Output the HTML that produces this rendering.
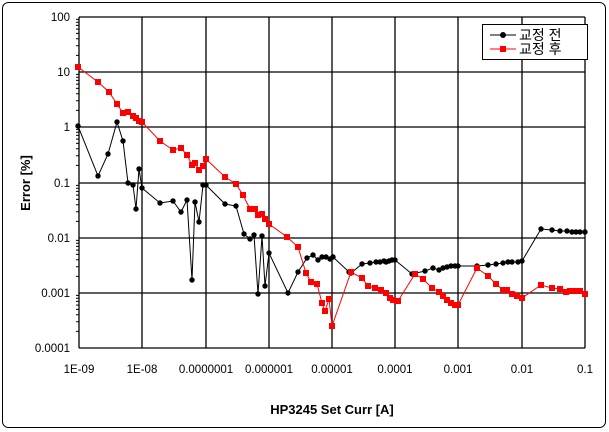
<!DOCTYPE html>
<html><head><meta charset="utf-8"><style>body{margin:0;background:#fff}svg{display:block}</style></head><body>
<svg width="609" height="432" xmlns="http://www.w3.org/2000/svg" font-family="Liberation Sans, sans-serif">
<rect x="0" y="0" width="609" height="432" fill="#fff"/>
<rect x="2.5" y="2.5" width="603" height="425" rx="6" fill="none" stroke="#000" stroke-width="1"/>
<g stroke="#000" stroke-width="1.3">
<line x1="79" y1="17" x2="585" y2="17"/><line x1="79" y1="72" x2="585" y2="72"/><line x1="79" y1="127" x2="585" y2="127"/><line x1="79" y1="183" x2="585" y2="183"/><line x1="79" y1="238" x2="585" y2="238"/><line x1="79" y1="293" x2="585" y2="293"/><line x1="79" y1="348" x2="585" y2="348"/>
<line x1="79" y1="17" x2="79" y2="348"/><line x1="142" y1="17" x2="142" y2="348"/><line x1="206" y1="17" x2="206" y2="348"/><line x1="269" y1="17" x2="269" y2="348"/><line x1="332" y1="17" x2="332" y2="348"/><line x1="395" y1="17" x2="395" y2="348"/><line x1="458" y1="17" x2="458" y2="348"/><line x1="522" y1="17" x2="522" y2="348"/><line x1="585" y1="17" x2="585" y2="348"/>
</g>
<g stroke="#000" stroke-width="1" id="mt">
<path d="M76 55.4H79M76 45.7H79M76 38.8H79M76 33.4H79M76 29.1H79M76 25.4H79M76 22.2H79M76 19.4H79"/>
<path d="M76 110.4H79M76 100.7H79M76 93.8H79M76 88.4H79M76 84.1H79M76 80.4H79M76 77.2H79M76 74.4H79"/>
<path d="M76 165.4H79M76 155.7H79M76 148.8H79M76 143.4H79M76 139.1H79M76 135.4H79M76 132.2H79M76 129.4H79"/>
<path d="M76 221.4H79M76 211.7H79M76 204.8H79M76 199.4H79M76 195.1H79M76 191.4H79M76 188.2H79M76 185.4H79"/>
<path d="M76 276.4H79M76 266.7H79M76 259.8H79M76 254.4H79M76 250.1H79M76 246.4H79M76 243.2H79M76 240.4H79"/>
<path d="M76 331.4H79M76 321.7H79M76 314.8H79M76 309.4H79M76 305.1H79M76 301.4H79M76 298.2H79M76 295.4H79"/>
</g>
<polyline fill="none" stroke="#000" stroke-width="1" points="78,126 98,176 108,154 117,122 123,141 128,183 133,185 136,209 139,169 142,188 160,203 173,201 181,212 187,200 192,280 195,202 199,222 203,185 206,185 225,204 236,206 244,234 250,239 254,235 258,294 262,236 265,286 269,253 288,293 298,272 307,258 313,255 318,260 322,257 326,257 330,259 333,257 349,272 351,273 362,264 370,263 376,262 380,262 384,261 386,262 389,261 392,260 395,260 412,274 425,271 433,268 439,270 443,268 447,267 451,266 455,266 458,266 477,266 488,265 496,264 503,263 508,262 512,262 518,262 522,261 541,229 552,230 560,231 567,231 572,232 576,232 580,232 585,232"/>
<g fill="#000" id="bk"></g>
<polyline fill="none" stroke="#f00" stroke-width="1" points="78,67 98,82 109,92 117,104 123,113 128,112 133,116 136,118 139,121 142,122 160,141 173,150 181,148 187,155 192,165 195,163 199,170 203,166 206,159 225,177 236,184 243,195 250,209 255,209 258,215 262,214 265,219 269,224 287,237 298,247 306,273 311,282 317,284 322,303 325,311 329,299 332,326 351,272 362,278 368,286 375,288 381,290 386,293 390,298 393,300 398,301 415,274 423,279 432,288 439,292 443,296 447,300 451,303 455,305 458,305 477,268 488,276 496,284 503,290 507,290 512,294 517,296 522,298 541,285 552,288 560,289 566,292 570,291 575,291 580,291 585,294"/>
<g fill="#f00" id="rd"></g>
<rect x="482.5" y="24.5" width="105" height="35" fill="#fff" stroke="#000"/>
<line x1="490" y1="35" x2="516" y2="35" stroke="#000"/><circle cx="503" cy="35" r="3"/>
<line x1="490" y1="49" x2="516" y2="49" stroke="#f00"/><rect x="500" y="46" width="6" height="6" fill="#f00"/>
<g font-family="Liberation Sans, Noto Sans CJK KR, sans-serif" font-size="14"><text x="519" y="40">교정 전</text><text x="519" y="54">교정 후</text></g>
<g font-size="11.5" text-anchor="end"><text x="70" y="21">100</text><text x="70" y="76">10</text><text x="70" y="131">1</text><text x="70" y="187">0.1</text><text x="70" y="242">0.01</text><text x="70" y="297">0.001</text><text x="70" y="352">0.0001</text></g>
<g font-size="11.5" text-anchor="middle"><text x="79" y="373">1E-09</text><text x="142" y="373">1E-08</text><text x="206" y="373">0.0000001</text><text x="269" y="373">0.000001</text><text x="332" y="373">0.00001</text><text x="395" y="373">0.0001</text><text x="458" y="373">0.001</text><text x="522" y="373">0.01</text><text x="585" y="373">0.1</text></g>
<text x="332" y="414" font-size="13" font-weight="bold" text-anchor="middle">HP3245 Set Curr [A]</text>
<text transform="translate(30,183) rotate(-90)" font-size="13" font-weight="bold" text-anchor="middle">Error [%]</text>
<script>
var b="78,126 98,176 108,154 117,122 123,141 128,183 133,185 136,209 139,169 142,188 160,203 173,201 181,212 187,200 192,280 195,202 199,222 203,185 206,185 225,204 236,206 244,234 250,239 254,235 258,294 262,236 265,286 269,253 288,293 298,272 307,258 313,255 318,260 322,257 326,257 330,259 333,257 349,272 351,273 362,264 370,263 376,262 380,262 384,261 386,262 389,261 392,260 395,260 412,274 425,271 433,268 439,270 443,268 447,267 451,266 455,266 458,266 477,266 488,265 496,264 503,263 508,262 512,262 518,262 522,261 541,229 552,230 560,231 567,231 572,232 576,232 580,232 585,232";
var r="78,67 98,82 109,92 117,104 123,113 128,112 133,116 136,118 139,121 142,122 160,141 173,150 181,148 187,155 192,165 195,163 199,170 203,166 206,159 225,177 236,184 243,195 250,209 255,209 258,215 262,214 265,219 269,224 287,237 298,247 306,273 311,282 317,284 322,303 325,311 329,299 332,326 351,272 362,278 368,286 375,288 381,290 386,293 390,298 393,300 398,301 415,274 423,279 432,288 439,292 443,296 447,300 451,303 455,305 458,305 477,268 488,276 496,284 503,290 507,290 512,294 517,296 522,298 541,285 552,288 560,289 566,292 570,291 575,291 580,291 585,294";
var ns="http://www.w3.org/2000/svg",g1=document.getElementById("bk"),g2=document.getElementById("rd");
b.split(" ").forEach(function(p){var a=p.split(","),c=document.createElementNS(ns,"circle");c.setAttribute("cx",a[0]);c.setAttribute("cy",a[1]);c.setAttribute("r","2.7");g1.appendChild(c);});
r.split(" ").forEach(function(p){var a=p.split(","),c=document.createElementNS(ns,"rect");c.setAttribute("x",a[0]-3);c.setAttribute("y",a[1]-3);c.setAttribute("width","6");c.setAttribute("height","6");g2.appendChild(c);});
</script>
</svg>
</body></html>
